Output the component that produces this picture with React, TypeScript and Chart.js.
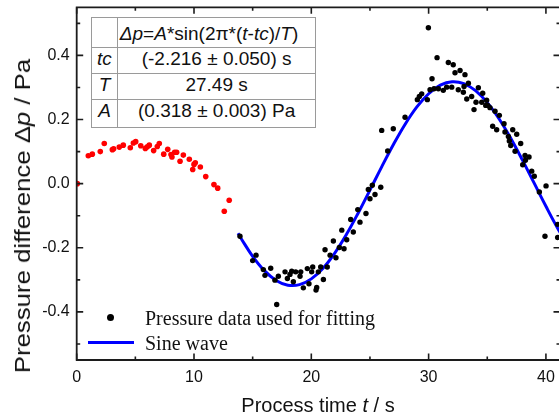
import React, { useEffect, useRef } from "react";
import { Chart, registerables } from "chart.js";

Chart.register(...registerables);

// ---- data ----
const excludedTime = [0.05, 0.99, 1.33, 2.01, 2.35, 3.04, 3.15, 3.63, 3.97, 4.57, 4.83, 5.03, 5.46, 5.85, 6.02, 6.19, 6.56, 6.87, 7.04, 7.42, 7.76, 8.04, 8.12, 8.35, 8.52, 8.81, 9.09, 9.6, 9.89, 10.0, 10.11, 10.54, 11.0, 11.7, 12.02, 12.58, 13.0];
const excludedPressure = [0.0, 0.087, 0.092, 0.1, 0.125, 0.106, 0.109, 0.114, 0.12, 0.112, 0.127, 0.131, 0.118, 0.11, 0.115, 0.12, 0.103, 0.116, 0.125, 0.092, 0.107, 0.091, 0.083, 0.098, 0.098, 0.07, 0.089, 0.076, 0.044, 0.06, 0.065, 0.052, 0.022, -0.003, -0.014, -0.086, -0.052];

const fitTime = [13.92, 15.0, 15.29, 15.91, 16.05, 16.54, 16.9, 17.05, 17.19, 17.76, 17.96, 18.18, 18.33, 18.47, 18.67, 19.04, 19.1, 19.32, 19.66, 19.8, 20.03, 20.12, 20.4, 20.46, 20.6, 20.8, 21.03, 21.17, 21.36, 21.6, 21.88, 22.1, 22.39, 22.6, 22.79, 23.02, 23.36, 23.58, 23.96, 24.15, 24.66, 24.86, 25.0, 25.2, 25.43, 25.92, 26.0, 26.51, 26.99, 27.99, 29.04, 29.21, 29.41, 29.89, 29.98, 30.12, 30.29, 30.46, 30.72, 30.83, 31.25, 31.54, 31.68, 31.97, 32.1, 32.25, 32.53, 32.68, 32.96, 33.02, 33.1, 33.25, 33.39, 33.67, 33.87, 34.04, 34.24, 34.53, 34.61, 34.87, 34.95, 35.04, 35.23, 35.46, 35.66, 35.8, 36.03, 36.43, 36.51, 36.8, 36.88, 37.0, 37.17, 37.37, 37.51, 37.85, 38.02, 38.22, 38.25, 38.56, 38.79, 39.01, 39.44, 39.92, 40.01, 41.0, 41.0];
const fitPressure = [-0.164, -0.24, -0.223, -0.268, -0.286, -0.264, -0.301, -0.377, -0.289, -0.275, -0.296, -0.283, -0.273, -0.306, -0.275, -0.289, -0.275, -0.325, -0.265, -0.312, -0.275, -0.26, -0.332, -0.324, -0.275, -0.26, -0.299, -0.206, -0.26, -0.223, -0.179, -0.231, -0.199, -0.145, -0.203, -0.175, -0.112, -0.151, -0.081, -0.12, -0.093, -0.018, -0.047, -0.005, -0.034, -0.011, 0.166, 0.102, 0.171, 0.207, 0.262, 0.272, 0.28, 0.262, 0.486, 0.293, 0.327, 0.296, 0.393, 0.296, 0.291, 0.301, 0.378, 0.301, 0.371, 0.346, 0.293, 0.353, 0.285, 0.303, 0.34, 0.264, 0.313, 0.272, 0.231, 0.254, 0.299, 0.254, 0.282, 0.244, 0.26, 0.244, 0.237, 0.179, 0.226, 0.168, 0.213, 0.187, 0.161, 0.147, 0.133, 0.119, 0.168, 0.101, 0.154, 0.125, 0.059, 0.088, 0.073, 0.083, 0.039, 0.023, -0.026, -0.164, -0.007, -0.168, -0.127];

const sineTime = [13.75, 14, 15, 16, 17, 18, 19, 20, 21, 22, 23, 24, 25, 26, 27, 28, 29, 30, 31, 32, 33, 34, 35, 36, 37, 38, 39, 40, 41, 42];
const sinePressure = [-0.1546, -0.1702, -0.2266, -0.2713, -0.3018, -0.3167, -0.315, -0.297, -0.2636, -0.2164, -0.158, -0.0913, -0.02, 0.0525, 0.1221, 0.1855, 0.2392, 0.2804, 0.3071, 0.3178, 0.312, 0.2899, 0.2527, 0.2024, 0.1417, 0.0735, 0.0015, -0.0706, -0.139, -0.2002];

const xMajorTicks = [0, 10, 20, 30, 40];
const xMinorTicks = [5, 15, 25, 35];
const yMajorTicks = [-0.4, -0.2, 0, 0.2, 0.4];
const yMinorTicks = [-0.5, -0.3, -0.1, 0.1, 0.3, 0.5];

const toPoints = (xs: number[], ys: number[]) => xs.map((x, i) => ({ x, y: ys[i] }));

const SANS = "'Liberation Sans', Arial, sans-serif";
const SERIF = "'Liberation Serif', 'Times New Roman', serif";

const framePlugin = {
  id: "originFrame",
  afterDraw(chart: any) {
    const { ctx, chartArea: a, scales } = chart;
    const xs = scales.x;
    const ys = scales.y;
    ctx.save();
    ctx.strokeStyle = "#1c1c1c";
    ctx.lineWidth = 1.8;
    ctx.beginPath();
    ctx.rect(a.left, a.top, a.right - a.left, a.bottom - a.top);
    ctx.stroke();
    ctx.lineWidth = 1.6;
    ctx.beginPath();
    const xt = (v: number, len: number) => {
      const p = xs.getPixelForValue(v);
      ctx.moveTo(p, a.bottom);
      ctx.lineTo(p, a.bottom - len);
      ctx.moveTo(p, a.top);
      ctx.lineTo(p, a.top + len);
    };
    const yt = (v: number, len: number) => {
      const p = ys.getPixelForValue(v);
      ctx.moveTo(a.left, p);
      ctx.lineTo(a.left + len, p);
      ctx.moveTo(a.right, p);
      ctx.lineTo(a.right - len, p);
    };
    xMajorTicks.forEach((v) => xt(v, 6.5));
    xMinorTicks.forEach((v) => xt(v, 3.5));
    yMajorTicks.forEach((v) => yt(v, 6.5));
    yMinorTicks.forEach((v) => yt(v, 3.5));
    ctx.stroke();
    ctx.restore();
  },
};

export default function App() {
  const ref = useRef<HTMLCanvasElement>(null);

  useEffect(() => {
    if (!ref.current) return;
    const chart = new Chart(ref.current, {
      type: "scatter",
      data: {
        datasets: [
          {
            label: "Pressure data used for fitting",
            data: toPoints(fitTime, fitPressure),
            backgroundColor: "#000000",
            borderWidth: 0,
            pointRadius: 2.7,
          },
          {
            label: "Excluded data",
            data: toPoints(excludedTime, excludedPressure),
            backgroundColor: "#ff0000",
            borderWidth: 0,
            pointRadius: 2.8,
          },
          {
            label: "Sine wave",
            data: toPoints(sineTime, sinePressure),
            showLine: true,
            borderColor: "#0000ff",
            borderWidth: 3,
            pointRadius: 0,
            tension: 0.4,
            fill: false,
          },
        ],
      } as any,
      options: {
        responsive: false,
        animation: false,
        devicePixelRatio: 1,
        layout: { padding: { top: 7.3, right: 20, bottom: 0, left: 0 } },
        plugins: { legend: { display: false }, tooltip: { enabled: false } },
        scales: {
          x: {
            type: "linear",
            min: 0,
            max: 41.2,
            grid: { display: false, drawTicks: false },
            border: { display: false },
            afterBuildTicks: (s: any) => {
              s.ticks = xMajorTicks.map((v) => ({ value: v }));
            },
            afterFit: (s: any) => {
              s.height = 59;
              s.paddingLeft = 0;
              s.paddingRight = 0;
            },
            ticks: {
              padding: 8,
              maxRotation: 0,
              color: "#111",
              font: { family: SANS, size: 16 },
              callback: (v: any) => String(v),
            },
          },
          y: {
            type: "linear",
            min: -0.55,
            max: 0.55,
            grid: { display: false, drawTicks: false },
            border: { display: false },
            afterBuildTicks: (s: any) => {
              s.ticks = yMajorTicks.map((v) => ({ value: v }));
            },
            afterFit: (s: any) => {
              s.width = 76.7;
              s.paddingTop = 0;
              s.paddingBottom = 0;
            },
            ticks: {
              padding: 7,
              color: "#111",
              font: { family: SANS, size: 16 },
              callback: (v: any) => Number(v).toFixed(1),
            },
          },
        },
      } as any,
      plugins: [framePlugin],
    });
    return () => chart.destroy();
  }, []);

  const cellBase: React.CSSProperties = {
    border: "1px solid #9a9a9a",
    padding: 0,
    textAlign: "center",
    verticalAlign: "middle",
    whiteSpace: "nowrap",
    lineHeight: "20px",
  };

  return (
    <div
      style={{
        position: "absolute",
        left: 0,
        top: 0,
        width: 559,
        height: 419,
        overflow: "hidden",
        background: "#fff",
        fontFamily: SANS,
        color: "#111",
      }}
    >
      <canvas ref={ref} width={580} height={419} style={{ position: "absolute", left: 0, top: 0, width: 580, height: 419 }} />

      {/* fit parameter table */}
      <table
        style={{
          position: "absolute",
          left: 90.7,
          top: 17.3,
          width: 224.3,
          borderCollapse: "collapse",
          tableLayout: "fixed",
          border: "1.5px solid #404040",
          background: "#fff",
          fontSize: 19,
          fontFamily: SANS,
          color: "#111",
        }}
      >
        <colgroup>
          <col style={{ width: 26.6 }} />
          <col style={{ width: 197.7 }} />
        </colgroup>
        <tbody>
          <tr style={{ height: 29.4 }}>
            <td style={cellBase}></td>
            <td style={{ ...cellBase, textAlign: "left", paddingLeft: 1.5, paddingTop: 3 }}>
              <i>Δp</i>=<i>A</i>*sin(2π*(<i>t</i>-<i>tc</i>)/<i>T</i>)
            </td>
          </tr>
          <tr style={{ height: 26.6 }}>
            <td style={{ ...cellBase, paddingBottom: 3 }}><i>tc</i></td>
            <td style={{ ...cellBase, paddingBottom: 3 }}>(-2.216 ± 0.050) s</td>
          </tr>
          <tr style={{ height: 26 }}>
            <td style={{ ...cellBase, paddingBottom: 4 }}><i>T</i></td>
            <td style={{ ...cellBase, paddingBottom: 4 }}>27.49 s</td>
          </tr>
          <tr style={{ height: 27.4 }}>
            <td style={{ ...cellBase, paddingBottom: 4 }}><i>A</i></td>
            <td style={{ ...cellBase, paddingBottom: 4 }}>(0.318 ± 0.003) Pa</td>
          </tr>
        </tbody>
      </table>

      {/* legend */}
      <div style={{ position: "absolute", left: 107.2, top: 313.8, width: 7, height: 7, borderRadius: "50%", background: "#000" }} />
      <div style={{ position: "absolute", left: 145, top: 308.2, fontFamily: SERIF, fontSize: 20, lineHeight: "20px", whiteSpace: "nowrap", color: "#111" }}>
        Pressure data used for fitting
      </div>
      <div style={{ position: "absolute", left: 88.3, top: 341.4, width: 45.7, height: 2.6, background: "#0000ff" }} />
      <div style={{ position: "absolute", left: 145, top: 333.2, fontFamily: SERIF, fontSize: 20, lineHeight: "20px", whiteSpace: "nowrap", color: "#111" }}>
        Sine wave
      </div>

      {/* axis titles */}
      <div
        style={{
          position: "absolute",
          left: 318,
          top: 394.8,
          transform: "translateX(-50%)",
          fontSize: 20,
          lineHeight: "20px",
          whiteSpace: "nowrap",
          fontFamily: SANS,
        }}
      >
        Process time <i>t</i> / s
      </div>
      <div
        style={{
          position: "absolute",
          left: 23,
          top: 215.5,
          transform: "translate(-50%, -50%) rotate(-90deg) scaleX(1.17)",
          fontSize: 22,
          lineHeight: "22px",
          whiteSpace: "nowrap",
          fontFamily: SANS,
        }}
      >
        Pressure difference Δ<i>p</i> / Pa
      </div>
    </div>
  );
}
